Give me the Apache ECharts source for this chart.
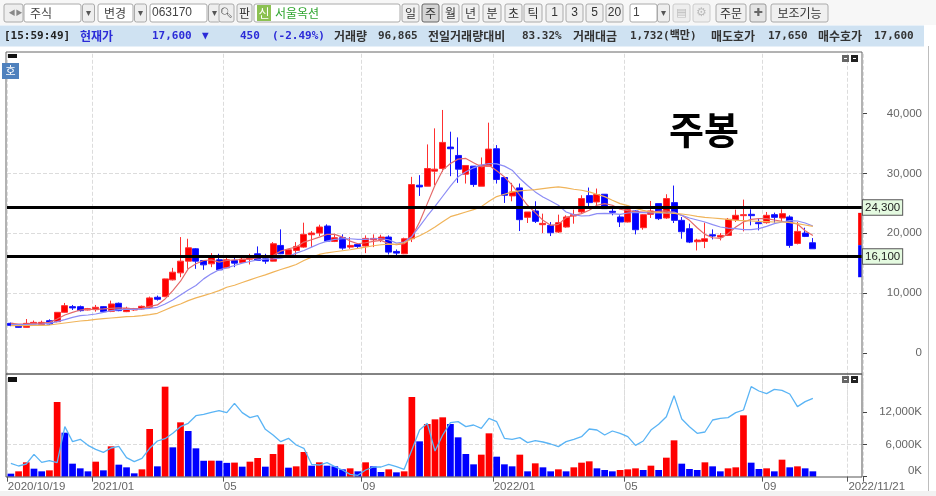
<!DOCTYPE html>
<html><head><meta charset="utf-8">
<style>html,body{margin:0;padding:0;background:#fff}#c{width:936px;height:496px}</style>
<script src="https://cdn.jsdelivr.net/npm/echarts@6/dist/echarts.min.js"></script>
</head><body><div id="c"></div>
<script>
const categoryCount = 111;
const tickIndex = [0, 11, 28, 46, 63, 80, 98, 109];
const tickLabels = ['2020/10/19', '2021/01', '05', '09', '2022/01', '05', '09', '2022/11/21'];
const priceTicks = [0, 10000, 20000, 30000, 40000];
const volumeTicks = [0, 6000, 12000];
const levels = [24300, 16100];
const sideRange = [23400, 18000, 12640];
const titleText = '주봉';

// [open, close, low, high]
const candles = [
[4924,4588,4450,5050],[4700,4252,4200,4800],[4252,4924,4200,5650],[4812,5091,4700,5400],[4700,5091,4600,5371],
[5371,4812,4700,5600],[5204,6770,5100,6800],[6770,7888,6700,8336],[7720,7500,7161,8000],[7720,7049,6900,7900],
[7161,7385,7100,7500],[7216,7608,6881,8000],[7720,6881,6800,7800],[6937,8168,6800,8727],[8280,7049,6950,8400],
[6881,7440,6800,7700],[7161,7385,7000,7500],[7329,7776,7250,7900],[7608,9175,7500,9400],[9286,8951,8727,9566],
[9398,12362,9300,12400],[12195,13481,12100,14208],[13369,15327,12642,19354],[15327,17564,14040,19074],[17396,15327,14040,17500],
[15438,14711,13873,15500],[14879,15998,14320,16669],[15550,13873,13800,16557],[14208,15550,14208,15998],[15438,14991,14320,16165],
[15103,15662,14991,16277],[15662,15998,14767,16557],[16557,15438,15438,17788],[15718,15327,14879,16557],[15327,18235,15300,18515],
[17955,16557,16500,20640],[16445,17228,16277,17300],[17116,17788,16277,18515],[17676,19801,17564,21759],[19745,20025,17676,20360],
[20025,21032,19521,21423],[21199,18682,18515,21479],[18627,19242,18515,19913],[19242,17508,17228,19801],[17676,17955,17396,19354],
[18123,17788,17508,18347],[17844,19130,16669,19633],[18906,19130,17676,19801],[18962,19354,18515,19745],[19354,16837,16445,19633],
[16949,16669,16277,17284],[16557,19074,16500,19250],[19075,28136,18516,29422],[28024,27744,26234,29702],[27856,30820,27856,34847],
[30373,30708,28024,37532],[30820,35183,30261,40608],[34400,34120,29534,36973],[33002,30708,28416,36022],[29869,31324,28304,31324],
[31212,28136,27744,31212],[27856,31380,27856,32666],[31212,34064,31212,38483],[34120,28975,28304,34735],[29310,26346,25060,29310],
[26234,26905,25339,28416],[27577,22263,20361,28304],[22655,23549,21704,23549],[23717,21983,21704,25339],[21424,21648,20026,23270],
[21312,20082,19523,21872],[20193,21760,20026,23102],[21033,22710,20921,22990],[22878,23102,21592,23941],[23549,25787,23270,26346],
[26290,25116,24276,27632],[25227,26458,24668,27465],[26514,24109,24109,26514],[23662,23494,22990,24500],[22710,21871,21033,23000],
[21871,23940,21800,24100],[23717,20584,19801,23800],[20920,23101,20584,23200],[23157,23717,22542,25394],[24947,22430,22200,24947],
[22542,25786,22400,26513],[25115,22150,21703,27967],[22150,20249,19074,22710],[20752,18515,18347,21591],[18571,18851,17117,19074],
[18627,19074,17508,21759],[19746,19522,18962,20641],[19354,19634,18795,20025],[19634,22318,19522,22542],[22262,22989,21871,23940],
[22933,23101,20305,25618],[23157,22933,21312,23996],[21759,21591,20473,22542],[21759,22989,21591,23549],[23101,22654,21759,23437],
[22542,23269,21871,23996],[22710,17956,17564,22989],[18292,20305,18124,21871],[20025,19466,19354,20920],[18403,17397,17397,19186]
];

const maRed = [
4924,4812,4812,4924,4980,5091,5651,6322,6770,7161,7273,7273,7329,7441,7496,7441,7329,7441,7776,8000,
9007,10405,11971,14040,14879,15439,15550,15159,15439,15550,15606,15718,15886,15998,16277,17005,17396,17676,18515,18906,
19354,19801,19801,19354,18682,18235,18403,18627,18794,18235,18067,18235,19355,21871,24948,28024,30541,31659,32387,32498,
31771,31100,31380,30429,29422,28024,26346,24668,23438,22151,21312,21480,22599,22990,23270,23829,24668,24948,24668,24000,
23772,23605,23549,23549,23661,23717,23437,22989,22150,20920,19801,19242,19130,19913,21032,21871,22318,22430,22430,22207,
21983,21759,21535,20417,19634];
const maBlue = [
4700,4700,4700,4756,4812,4924,5204,5539,5930,6210,6322,6490,6770,7049,7217,7273,7273,7329,7441,7608,
8168,8839,9678,10517,11244,12362,13201,13873,14208,14600,14991,15271,15550,15662,15718,15830,16110,16669,17116,17676,
18235,18682,18962,19074,19074,18962,18962,19074,19074,18906,18347,18515,19467,21144,22878,24500,26178,27856,29422,30261,
30932,31380,31659,31603,31212,30541,29143,27968,26905,26066,25395,24668,23549,23102,22878,22934,23270,23326,23270,23157,
23381,23493,23437,23381,23381,23381,23549,22989,22542,22206,21871,21423,21032,20864,20753,20584,20584,20753,21144,21591,
21871,22095,22039,21703,21200];
const maOrange = [
4532,4532,4532,4588,4588,4644,4812,4980,5148,5315,5427,5595,5707,5819,5930,6042,6098,6210,6378,6602,
7161,7720,8168,8727,9175,9566,9958,10405,10964,11300,11747,12195,12642,13034,13481,13928,14320,14767,15439,15998,
16445,16725,16893,17061,17228,17452,17676,17900,18067,18179,18123,18403,19019,19578,20249,21033,21928,22767,23158,23550,
23941,24444,25339,26122,26514,26905,27073,27185,27297,27465,27632,27744,27577,27353,27185,26905,26514,26122,25507,24948,
24611,24164,23828,23549,23493,23381,23325,23213,23045,22822,22654,22542,22430,22318,22150,22095,22039,21983,21927,21871,
21871,21815,21591,21368,21144];

const volume = [
557,990,2660,1485,990,1175,13857,8165,2412,1546,990,2784,1175,5630,2227,1732,619,1361,8846,1918,
16700,5444,10083,8475,5258,2950,2970,2960,2560,2610,1856,2784,3464,1856,4206,6000,1670,1918,4578,2041,
2660,2041,1918,1361,1546,990,2660,1918,866,1361,804,990,14785,6557,9774,10640,11011,9774,7300,4206,
2289,4083,8042,3712,2289,1918,4083,990,2474,1732,990,1361,990,1732,2598,2845,1546,1237,990,1237,
1361,1546,1237,2041,1237,3526,6743,2412,1423,1237,2660,1918,990,1546,1732,11382,2598,1423,1546,990,
3155,1732,1918,1546,990];
const volumeMA = [
2474,1980,2351,4145,2660,2970,2598,9279,6495,6928,5815,5073,4516,5320,5629,3526,2784,3402,5258,6619,
7052,8042,9279,9898,11320,11568,11939,12248,11877,13609,11877,10949,11320,8784,7732,6495,7114,5877,5258,2289,
2165,2598,1856,1237,433,247,1237,1794,1794,2289,1856,1361,4949,8660,9898,4763,7732,10021,10207,9279,
9588,8970,10825,10207,7114,6928,7238,6310,6681,6433,6062,5567,6495,6928,7423,8846,8660,7732,8475,8042,
7423,5815,6619,8660,9712,11135,15032,10702,9279,8042,8289,10516,10825,10949,11877,12372,16702,15898,15403,16207,
16021,15341,12990,13918,14537];

const toolbarFields = [
  ['주식', 24, 57], ['변경', 98, 35], ['063170', 150, 57]
];
const dropButtons = [82, 134, 208, 657];
const toolbarButtons = [
  ['판',237,15],['일',402,17],['주',422,17],['월',442,17],['년',462,17],['분',483,18],['초',505,17],['틱',524,18],
  ['1',546,17],['3',566,17],['5',586,17],['20',606,17],['주문',716,30],['보조기능',771,57]
];
const infoTexts = [
  ['[15:59:49]',4,'#222','m'],['현재가',80,'#2b2bd8','k'],['17,600',152,'#2b2bd8','m'],['▼',202,'#2b2bd8','m'],
  ['450',240,'#2b2bd8','m'],['(-2.49%)',272,'#2b2bd8','m'],['거래량',334,'#333','k'],['96,865',378,'#333','m'],
  ['전일거래량대비',428,'#333','k'],['83.32%',522,'#333','m'],['거래대금',573,'#333','k'],['1,732(백만)',630,'#333','m'],
  ['매도호가',711,'#333','k'],['17,650',768,'#333','m'],['매수호가',818,'#333','k'],['17,600',874,'#333','m']
];

const uiFont = '"Noto Sans CJK KR","Liberation Sans",sans-serif';
const axFont = '"Liberation Sans","Noto Sans CJK KR",sans-serif';
const gfx = [];
const rect = (x,y,w,h,fill,stroke,z)=>gfx.push({type:'rect',z:z||1,silent:true,shape:{x,y,width:w,height:h,r:stroke?2:0},style:{fill:fill||'none',stroke:stroke||null,lineWidth:1}});
const text = (x,y,t,o)=>gfx.push({type:'text',z:(o&&o.z)||3,silent:true,x,y,style:Object.assign({text:t,fill:'#444',font:'12px '+uiFont,textVerticalAlign:'middle',textAlign:'left'},o||{})});

rect(0,0,936,25,'#f7f7f7');
rect(0,25.5,924,21,'#cfe2f2');
rect(4,4,19,18,'#eeeeee','#aaaaaa');
text(8.5,13,'◀▶',{font:'7px '+axFont,fill:'#888'});
toolbarFields.forEach(f=>{rect(f[1],4,f[2],18,'#fff','#aaa');text(f[1]+(f[0].length>2?2:6),13,f[0],{font:(f[0].length>2?'12px '+axFont:'12px '+uiFont)});});
dropButtons.forEach(x=>{rect(x+0.5,4,12,18,'#eee','#aaa');text(x+6.5,13.5,'▾',{textAlign:'center',font:'10px '+axFont,fill:'#555'});});
rect(219,4,15,18,'#eee','#aaa');text(226.5,13,'🔍︎',{textAlign:'center',font:'10px '+axFont,fill:'#555'});
rect(254,4,146,18,'#fff','#aaa');
rect(257,5,14,16,'#8cc152');text(264,13,'신',{textAlign:'center',fill:'#fff'});
text(275,13,'서울옥션',{fill:'#2fa52f'});
toolbarButtons.forEach(b=>{const on=b[0]==='주'&&b[2]===17;rect(b[1],4,b[2],18,on?'#d4d4d4':'#f0f0f0',on?'#666':'#aaa');
  text(b[1]+b[2]/2,13,b[0],{textAlign:'center',font:(/\d/.test(b[0])?'12px '+axFont:'12px '+uiFont),fill:'#333'});});
rect(630,4,27,18,'#fff','#aaa');text(633,13,'1',{font:'12px '+axFont});
rect(673,4,17,18,'#eee','#ccc');text(681.5,13,'▤',{textAlign:'center',font:'11px "DejaVu Sans"',fill:'#bbb'});
rect(693,4,17,18,'#eee','#ccc');text(701.5,13,'⚙',{textAlign:'center',font:'12px "DejaVu Sans"',fill:'#bbb'});
rect(750,4,16,18,'#e4e4e4','#999');text(758,13,'✚',{textAlign:'center',font:'11px "DejaVu Sans"',fill:'#666'});
infoTexts.forEach(t=>text(t[1],36,t[0],{fill:t[2],font:t[3]==='k'?'bold 12px '+uiFont:'bold 11px "DejaVu Sans Mono",'+uiFont}));

rect(928,46,1,450,'#bdbdbd');
rect(0,491,936,5,'#f2f2f2');
// frame
rect(6,52,856,322,null,'#666',20);rect(6,374,856,103,null,'#555',20);
gfx.slice(-2).forEach(g=>g.shape.r=0);
rect(2,63,17,16,'#4f81bd',null,25);text(10.5,71,'호',{textAlign:'center',fill:'#fff',z:26,font:'11px '+uiFont});
rect(8,377,9,5,'#111',null,25);rect(8,54,9,4,'#111',null,25);
[[842,55],[851,55],[842,376],[851,376]].forEach(p=>{rect(p[0],p[1],7,7,p[0]===842?'#666':'#222',null,25);rect(p[0]+2,p[1]+3,3,1,'#fff',null,26);});
text(704,130,titleText,{textAlign:'center',font:'bold 38px '+uiFont,fill:'#000',z:30});

const isTick = i => tickIndex.includes(i);
const dash = {show:true,interval:isTick,lineStyle:{color:'#dcdcdc',type:'dashed',width:1}};
const yDash = {show:true,showMinLine:false,showMaxLine:false,lineStyle:{color:'#dcdcdc',type:'dashed',width:1}};
const categories = Array.from({length:categoryCount},(_,i)=>i);
const fmt = v => String(v).replace(/\B(?=(\d{3})+$)/g,',');
const sideBars = [[110,sideRange[0],sideRange[1]],[110,sideRange[1],sideRange[2]]];
const sideColors = ['#ff0000','#0000ff'];
const MA = (name,data,color)=>({name,type:'line',data,xAxisIndex:0,yAxisIndex:0,symbol:'none',smooth:false,z:4,lineStyle:{color,width:1.2},silent:true});

const chart = echarts.init(document.getElementById('c'));
chart.setOption({
  animation:false,
  graphic:gfx,
  grid:[
    {left:7,top:53.8,width:856,height:358.8},
    {left:7,top:379.67,width:856,height:97}
  ],
  xAxis:[
    {type:'category',gridIndex:0,data:categories,boundaryGap:true,axisLine:{show:false},axisTick:{show:false},axisLabel:{show:false},splitLine:dash},
    {type:'category',gridIndex:1,data:categories,boundaryGap:true,axisLine:{show:false},
     axisTick:{show:true,interval:isTick,length:5,lineStyle:{color:'#555'}},splitLine:dash,
     axisLabel:{show:true,interval:isTick,align:'left',margin:4,color:'#666',padding:[0,0,0,-3],fontFamily:axFont,fontSize:11.5,hideOverlap:false,
       formatter:(v)=>tickLabels[tickIndex.indexOf(+v)]||''}}
  ],
  yAxis:[
    {type:'value',gridIndex:0,position:'right',min:-10000,max:50000,interval:10000,axisLine:{show:false},
     axisTick:{show:true,length:4,inside:false,customValues:priceTicks,lineStyle:{color:'#444'}},splitLine:yDash,
     axisLabel:{show:true,customValues:priceTicks,align:'right',margin:59,color:'#666',fontFamily:axFont,fontSize:11.5,formatter:v=>fmt(v)}},
    {type:'value',gridIndex:1,position:'right',min:0,max:18000,interval:6000,axisLine:{show:false},
     axisTick:{show:true,length:4,customValues:volumeTicks,lineStyle:{color:'#444'}},splitLine:yDash,
     axisLabel:{show:true,customValues:volumeTicks,align:'right',margin:59,color:'#666',fontFamily:axFont,fontSize:11.5,verticalAlignMinLabel:'bottom',formatter:v=>fmt(v)+'K'}}
  ],
  series:[
    {name:'price',type:'candlestick',xAxisIndex:0,yAxisIndex:0,data:candles,barWidth:6.5,z:3,silent:true,
     itemStyle:{color:'#ff0000',color0:'#0000ff',borderColor:'#ff3030',borderColor0:'#1818ff',borderWidth:1},
     markLine:{silent:true,symbol:'none',precision:0,z:10,lineStyle:{color:'#000',width:3,type:'solid'},
       label:{show:true,position:'end',distance:0,formatter:p=>fmt(p.value),color:'#222',fontFamily:axFont,fontSize:11.5,backgroundColor:'#e4fae0',borderColor:'#555',borderWidth:1,padding:[2,2,1,2]},
       emphasis:{disabled:true},
       data:levels.map(v=>({yAxis:v}))}},
    MA('red',maRed,'#e46a6a'),MA('blue',maBlue,'#8c8cf5'),MA('orange',maOrange,'#f0b45a'),
    {name:'side',type:'custom',xAxisIndex:0,yAxisIndex:0,data:sideBars,silent:true,z:6,clip:false,
     renderItem:(params,api)=>{const a=api.coord([api.value(0),api.value(1)]),b=api.coord([api.value(0),api.value(2)]);
       return {type:'rect',shape:{x:a[0]-1,y:a[1],width:3.5,height:b[1]-a[1]},style:{fill:sideColors[params.dataIndex]}};}},
    {name:'volume',type:'bar',xAxisIndex:1,yAxisIndex:1,data:volume,barWidth:6.7,silent:true,z:3,
     itemStyle:{color:p=>(p.dataIndex>0&&volume[p.dataIndex]>volume[p.dataIndex-1])?'#ff0000':'#0000ff'}},
    {name:'volumeMA',type:'line',xAxisIndex:1,yAxisIndex:1,data:volumeMA,symbol:'none',z:5,silent:true,lineStyle:{color:'#5ab4f5',width:1.3}}
  ]
});
</script></body></html>
